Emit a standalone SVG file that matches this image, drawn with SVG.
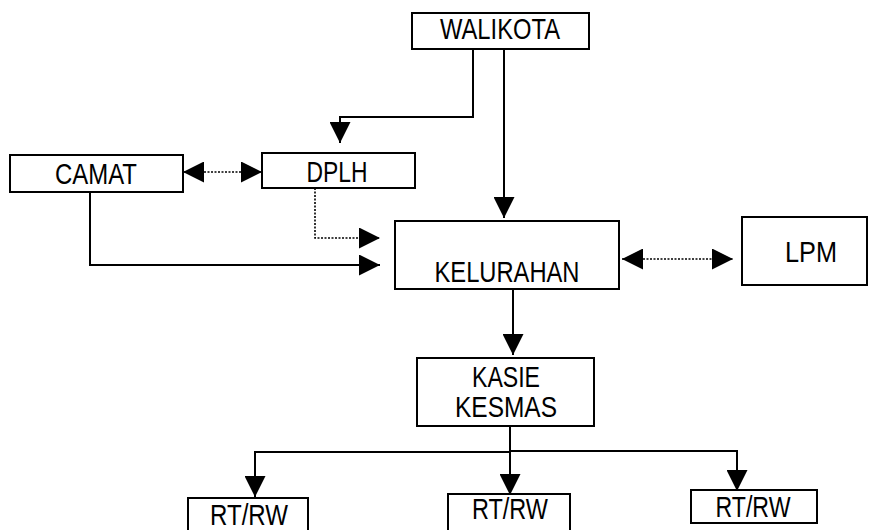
<svg xmlns="http://www.w3.org/2000/svg" width="870" height="530" viewBox="0 0 870 530">
<style>
.box{fill:#fff;stroke:#000;stroke-width:2}
.t{font-family:"Liberation Sans Narrow","Arial Narrow","Liberation Sans",sans-serif;font-size:29px;fill:#000;text-anchor:middle}
.ln{fill:none;stroke:#000;stroke-width:2}
.dt{fill:none;stroke:#000;stroke-width:1.6;stroke-dasharray:2 1.5}
</style>
<defs>
<marker id="ah" viewBox="0 0 20 20" refX="20" refY="10" markerWidth="21" markerHeight="21" markerUnits="userSpaceOnUse" orient="auto-start-reverse">
<path d="M0,0 L20,10 L0,20 z" fill="#000"/>
</marker>
</defs>
<rect width="870" height="530" fill="#fff"/>
<g id="connectors">
<path class="ln" d="M473,49 V117 H340 V143" marker-end="url(#ah)"/>
<path class="ln" d="M504,49 V218" marker-end="url(#ah)"/>
<path class="dt" d="M183,172 H262" marker-start="url(#ah)" marker-end="url(#ah)"/>
<path class="dt" d="M315,188 V238 H380" marker-end="url(#ah)"/>
<path class="ln" d="M90,192 V265 H380" marker-end="url(#ah)"/>
<path class="dt" d="M622,259 H733" marker-start="url(#ah)" marker-end="url(#ah)"/>
<path class="ln" d="M513,289 V355" marker-end="url(#ah)"/>
<path class="ln" d="M510,426 V495" marker-end="url(#ah)"/>
<path class="ln" d="M511,452 H255 V497" marker-end="url(#ah)"/>
<path class="ln" d="M509,451 H737 V491" marker-end="url(#ah)"/>
</g>
<g id="walikota"><rect class="box" x="412" y="13" width="177" height="36"/><text class="t" x="500" y="39" textLength="120" lengthAdjust="spacingAndGlyphs">WALIKOTA</text></g>
<g id="camat"><rect class="box" x="10" y="155" width="173" height="37"/><text class="t" x="96" y="184" textLength="82" lengthAdjust="spacingAndGlyphs">CAMAT</text></g>
<g id="dplh"><rect class="box" x="262" y="153" width="153" height="35"/><text class="t" x="337" y="182" textLength="61" lengthAdjust="spacingAndGlyphs">DPLH</text></g>
<g id="kelurahan"><rect class="box" x="395" y="221" width="224" height="68"/><text class="t" x="507" y="282" textLength="145" lengthAdjust="spacingAndGlyphs">KELURAHAN</text></g>
<g id="lpm"><rect class="box" x="742" y="217" width="125" height="68"/><text class="t" x="811" y="262" textLength="52" lengthAdjust="spacingAndGlyphs">LPM</text></g>
<g id="kasie"><rect class="box" x="417" y="358" width="177" height="68"/><text class="t" x="506" y="387" textLength="68" lengthAdjust="spacingAndGlyphs">KASIE</text><text class="t" x="506" y="417" textLength="102" lengthAdjust="spacingAndGlyphs">KESMAS</text></g>
<g id="rtrw1"><rect class="box" x="188" y="498" width="120" height="40"/><text class="t" x="249" y="525" textLength="78" lengthAdjust="spacingAndGlyphs">RT/RW</text></g>
<g id="rtrw2"><rect class="box" x="448" y="494" width="122" height="40"/><text class="t" x="510" y="519" textLength="76" lengthAdjust="spacingAndGlyphs">RT/RW</text></g>
<g id="rtrw3"><rect class="box" x="691" y="490" width="126" height="33"/><text class="t" x="753" y="517" textLength="75" lengthAdjust="spacingAndGlyphs">RT/RW</text></g>
</svg>
